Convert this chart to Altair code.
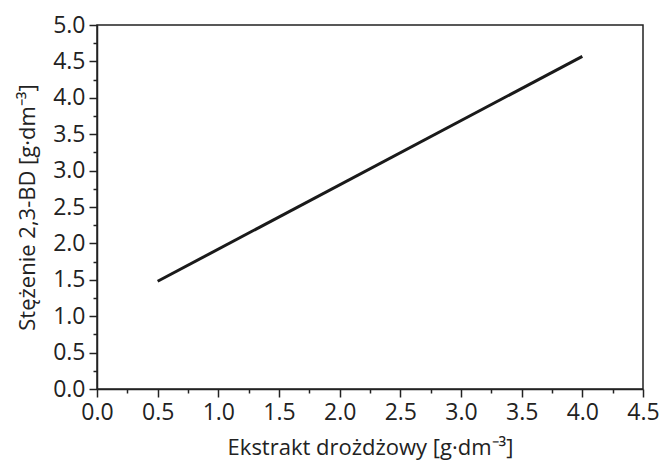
import altair as alt
import pandas as pd

extract = [0.5, 4.0]
concentration = [1.48, 4.57]

df = pd.DataFrame({"x": extract, "y": concentration})

minor_test = "abs(datum.value*2 - round(datum.value*2)) > 0.01"
font = "Open Sans"

x_ticks = [i * 0.25 for i in range(19)]
y_ticks = [i * 0.25 for i in range(21)]

chart = alt.Chart(df).mark_line(color="#1a1a1a", strokeWidth=3).encode(
    x=alt.X("x:Q", scale=alt.Scale(domain=[0, 4.5], nice=False, zero=False),
            axis=alt.Axis(values=x_ticks, title="Ekstrakt drożdżowy [g·dm⁻³]",
                          labelExpr=f"{minor_test} ? '' : format(datum.value, '.1f')",
                          tickSize={"condition": {"test": minor_test, "value": 4}, "value": 8},
                          labelOverlap=False, labelFlush=False, grid=False,
                          labelPadding=4, titlePadding=13)),
    y=alt.Y("y:Q", scale=alt.Scale(domain=[0, 5], nice=False, zero=False),
            axis=alt.Axis(values=y_ticks, title="Stężenie 2,3-BD [g·dm⁻³]",
                          labelExpr=f"{minor_test} ? '' : format(datum.value, '.1f')",
                          tickSize={"condition": {"test": minor_test, "value": 4}, "value": 8},
                          labelOverlap=False, labelFlush=False, grid=False,
                          labelPadding=4, titlePadding=13)),
).properties(
    width=546, height=364,
    autosize=alt.AutoSizeParams(type="none"),
    padding={"left": 97, "top": 25, "right": 17, "bottom": 80},
).configure_view(
    stroke="#222222", strokeWidth=1.5
).configure_axis(
    domainColor="#222222", domainWidth=1.5, tickColor="#222222", tickWidth=1.5,
    labelFont=font, labelFontSize=23, labelColor="#222222",
    titleFont=font, titleFontSize=22, titleFontWeight="normal", titleColor="#222222",
)

chart.save("out.html", embed_options={"renderer": "svg", "actions": False})
